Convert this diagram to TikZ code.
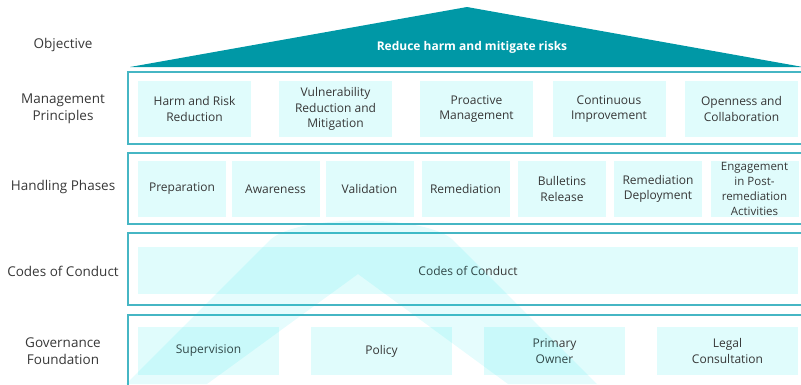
\documentclass[tikz,border=0pt]{standalone}
\usepackage{fontspec}
\setmainfont{Open Sans}
\usetikzlibrary{calc, positioning}

\definecolor{dach}{RGB}{0,152,166}
\definecolor{rahmen}{RGB}{70,182,196}
\definecolor{feld}{RGB}{224,252,252}
\definecolor{schrift}{RGB}{55,55,55}
\definecolor{zeichen}{RGB}{0,228,235}

\begin{document}
\begin{tikzpicture}[x=1pt, y=-1pt,
        feld/.style={fill=feld, text=schrift, align=center, inner sep=0pt,
                     font=\fontsize{12}{15.5}\selectfont},
        zeile/.style={draw=rahmen, line width=1.4pt},
        ebene/.style={text=schrift, align=center, font=\fontsize{13.5}{17}\selectfont}]
        \useasboundingbox (0,0) rectangle (801,384);
        \clip (0,0) rectangle (801,384);

        %Dach
        \fill[dach] (130,67) -- (467,7) -- (803,67) -- cycle;
        \node[text=white, font=\bfseries\fontsize{12}{14}\selectfont] (ziel) at (472,47) {Reduce harm and mitigate risks};

        %Zeilen
        \draw[zeile] (128,72) rectangle (812,144);     %Prinzipien
        \draw[zeile] (128,153) rectangle (812,224);    %Phasen
        \draw[zeile] (128,233) rectangle (812,305);    %Verhalten
        \draw[zeile] (128,315) rectangle (812,400);    %Fundament

        %Beschriftung links
        \node[ebene] (objective) at (63,45) {Objective};
        \node[ebene] (principles) at (63,109) {Management\\Principles};
        \node[ebene] (phases) at (63,187) {Handling Phases};
        \node[ebene] (conduct) at (63,271) {Codes of Conduct};
        \node[ebene] (foundation) at (63,351) {Governance\\Foundation};

        %Prinzipien
        \node[feld, minimum width=113, minimum height=56] (harm) at (194.5,109) {Harm and Risk\\Reduction};
        \node[feld, minimum width=113, minimum height=56] (vuln) at (335.5,109) {Vulnerability\\Reduction and\\Mitigation};
        \node[feld, minimum width=113, minimum height=56] (proactive) at (476.5,109) {Proactive\\Management};
        \node[feld, minimum width=113, minimum height=56] (continuous) at (609,109) {Continuous\\Improvement};
        \node[feld, minimum width=113, minimum height=56] (openness) at (741.5,109) {Openness and\\Collaboration};

        %Phasen
        \node[feld, minimum width=88, minimum height=56] (prep) at (182,189) {Preparation};
        \node[feld, minimum width=88, minimum height=56] (aware) at (275.5,189) {Awareness};
        \node[feld, minimum width=88, minimum height=56] (valid) at (369.5,189) {Validation};
        \node[feld, minimum width=88, minimum height=56] (remed) at (465.5,189) {Remediation};
        \node[feld, minimum width=88, minimum height=56] (bulletin) at (562,189) {Bulletins\\Release};
        \node[feld, minimum width=88, minimum height=56] (deploy) at (658,189) {Remediation\\Deployment};
        \node[feld, minimum width=88, minimum height=56, font=\fontsize{11.5}{15}\selectfont] (engage) at (754.5,189) {Engagement\\in Post-\\remediation\\Activities};

        %Verhaltensregeln
        \node[feld, minimum width=660, minimum height=47] (codes) at (468,270.5) {Codes of Conduct};

        %Fundament
        \node[feld, minimum width=141, minimum height=48] (supervision) at (208.5,351) {Supervision};
        \node[feld, minimum width=141, minimum height=48] (policy) at (381.5,351) {Policy};
        \node[feld, minimum width=141, minimum height=48] (owner) at (554.5,351) {Primary\\Owner};
        \node[feld, minimum width=141, minimum height=48] (legal) at (727.5,351) {Legal\\Consultation};

        %Wasserzeichen
        \fill[zeichen, opacity=0.1] (126,384) -- (270,240) .. controls (298,214) and (425,214) .. (453,240)
            -- (597,384) -- (508,384) -- (358,274) -- (207,384) -- cycle;
    \end{tikzpicture}
\end{document}
